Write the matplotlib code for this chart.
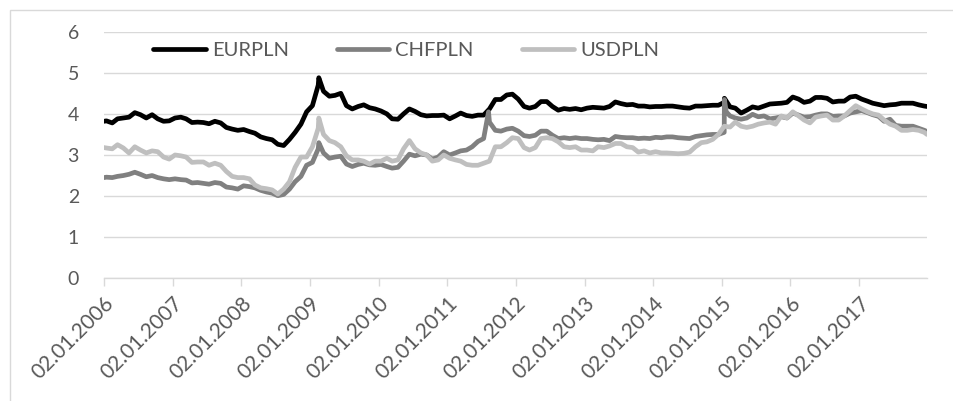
import matplotlib
matplotlib.use("Agg")
import matplotlib.pyplot as plt
from matplotlib.patches import Rectangle
import pandas as pd

plt.rcParams['font.family'] = ['Lato', 'DejaVu Sans']

# Monthly (mid-month) values, Jan 2006 .. Dec 2017
eurpln = [
    3.83, 3.78, 3.88, 3.90, 3.92, 4.03, 3.98, 3.90, 3.98, 3.88, 3.82, 3.83,
    3.90, 3.92, 3.88, 3.79, 3.80, 3.79, 3.76, 3.82, 3.78, 3.67, 3.63, 3.60,
    3.62, 3.57, 3.53, 3.44, 3.40, 3.37, 3.26, 3.23, 3.38, 3.55, 3.75, 4.05,
    4.20, 4.70, 4.55, 4.43, 4.45, 4.50, 4.20, 4.12, 4.18, 4.22, 4.15, 4.12,
    4.07, 4.00, 3.88, 3.87, 4.00, 4.12, 4.06, 3.98, 3.95, 3.96, 3.96, 3.97,
    3.88, 3.95, 4.02, 3.96, 3.94, 3.97, 3.97, 4.12, 4.35, 4.35, 4.46, 4.48,
    4.36, 4.18, 4.14, 4.18, 4.30, 4.30, 4.18, 4.09, 4.13, 4.11, 4.13, 4.10,
    4.14, 4.16, 4.15, 4.14, 4.18, 4.29, 4.25, 4.22, 4.23, 4.19, 4.19, 4.17,
    4.18, 4.18, 4.19, 4.19, 4.17, 4.15, 4.14, 4.19, 4.19, 4.20, 4.21, 4.21,
    4.28, 4.17, 4.14, 4.02, 4.09, 4.17, 4.14, 4.19, 4.24, 4.25, 4.26, 4.28,
    4.41, 4.36, 4.28, 4.31, 4.40, 4.40, 4.38, 4.29, 4.31, 4.31, 4.41, 4.43,
    4.36, 4.31, 4.26, 4.23, 4.20, 4.22, 4.23, 4.26, 4.26, 4.26, 4.22, 4.19,
]
chfpln = [
    2.46, 2.45, 2.48, 2.50, 2.53, 2.58, 2.53, 2.47, 2.50, 2.45, 2.42, 2.40,
    2.42, 2.40, 2.39, 2.32, 2.33, 2.31, 2.29, 2.33, 2.31, 2.22, 2.20, 2.17,
    2.25, 2.23, 2.20, 2.14, 2.10, 2.07, 2.01, 2.04, 2.17, 2.35, 2.48, 2.75,
    2.82, 3.15, 3.05, 2.92, 2.95, 2.97, 2.78, 2.72, 2.77, 2.80, 2.76, 2.75,
    2.77, 2.72, 2.68, 2.70, 2.85, 3.02, 2.98, 3.02, 3.00, 2.90, 2.95, 3.08,
    3.00, 3.05, 3.10, 3.12, 3.20, 3.33, 3.40, 3.80, 3.60, 3.58, 3.63, 3.65,
    3.58, 3.47, 3.45, 3.48, 3.58, 3.58, 3.48, 3.40, 3.42, 3.40, 3.42, 3.40,
    3.40, 3.38, 3.37, 3.38, 3.35, 3.45, 3.43, 3.42, 3.42, 3.40, 3.41, 3.40,
    3.43, 3.42, 3.44, 3.44, 3.42, 3.41, 3.40, 3.45, 3.47, 3.49, 3.50, 3.50,
    3.55, 3.95, 3.90, 3.87, 3.90, 3.99, 3.93, 3.95, 3.88, 3.90, 3.93, 3.90,
    4.02, 3.97, 3.92, 3.93, 3.97, 4.00, 4.00, 3.94, 3.95, 3.95, 4.02, 4.05,
    4.08, 4.03, 3.98, 3.94, 3.82, 3.87, 3.72, 3.70, 3.70, 3.70, 3.65, 3.60,
]
usdpln = [
    3.17, 3.15, 3.25, 3.17, 3.05, 3.20, 3.12, 3.05, 3.10, 3.08, 2.95, 2.90,
    3.00, 2.98, 2.95, 2.82, 2.83, 2.83, 2.75, 2.80, 2.75, 2.60, 2.48, 2.45,
    2.45, 2.42, 2.27, 2.20, 2.18, 2.15, 2.05, 2.17, 2.35, 2.70, 2.95, 2.95,
    3.20, 3.65, 3.50, 3.35, 3.30, 3.20, 2.98, 2.88, 2.88, 2.85, 2.78, 2.85,
    2.85, 2.92, 2.85, 2.88, 3.15, 3.35, 3.15, 3.05, 3.00, 2.85, 2.88, 3.00,
    2.92, 2.88, 2.85, 2.77, 2.75, 2.75, 2.80, 2.85, 3.20, 3.20, 3.30, 3.42,
    3.40, 3.18, 3.12, 3.18, 3.40, 3.42, 3.40, 3.32, 3.20, 3.18, 3.20, 3.12,
    3.12, 3.10, 3.20, 3.18, 3.22, 3.28, 3.28, 3.20, 3.18, 3.07, 3.10, 3.05,
    3.08, 3.05, 3.05, 3.04, 3.03, 3.04, 3.07, 3.20, 3.30, 3.32, 3.38, 3.50,
    3.70, 3.68, 3.80, 3.70, 3.67, 3.70, 3.75, 3.78, 3.80, 3.75, 3.95, 3.90,
    4.05, 3.95, 3.85, 3.78, 3.92, 3.95, 3.97, 3.85, 3.85, 3.95, 4.08, 4.20,
    4.12, 4.05, 4.00, 3.97, 3.85, 3.75, 3.70, 3.60, 3.60, 3.62, 3.60, 3.55,
]

# Additional daily observations (series start/end and visible spikes)
eur_extra = {"2006-01-02": 3.82, "2009-02-18": 4.88, "2015-01-16": 4.38,
             "2017-12-29": 4.18}
chf_extra = {"2006-01-02": 2.45, "2009-02-18": 3.30, "2011-08-10": 4.05,
             "2015-01-16": 4.35, "2015-01-26": 4.05, "2017-12-29": 3.57}
usd_extra = {"2006-01-02": 3.18, "2009-02-18": 3.90, "2017-12-29": 3.50}

series_names = ["EURPLN", "CHFPLN", "USDPLN"]
tick_labels = [f"02.01.{y}" for y in range(2006, 2018)]

months = pd.date_range("2006-01-01", periods=144, freq="MS") + pd.Timedelta(days=14)


def build(values, extra):
    s = pd.Series(values, index=months)
    e = pd.Series(extra)
    e.index = pd.to_datetime(e.index)
    return pd.concat([s, e]).sort_index()


data = [build(eurpln, eur_extra), build(chfpln, chf_extra), build(usdpln, usd_extra)]
colors = ["#000000", "#808080", "#bfbfbf"]

fig = plt.figure(figsize=(9.54, 4.01), dpi=100)
ax = fig.add_axes([0.109, 0.306, 0.8627, 0.615])

for s, name, c in zip(data, series_names, colors):
    ax.plot(s.index, s.values, color=c, lw=3.4, label=name,
            solid_joinstyle="round", solid_capstyle="round")

ax.set_ylim(0, 6)
ax.set_xlim(pd.Timestamp("2006-01-02"), pd.Timestamp("2017-12-29"))
ax.set_yticks(range(0, 7))
ax.yaxis.grid(True, color="#d9d9d9", lw=1.0)
ax.set_axisbelow(True)
for sp in ["top", "right", "left"]:
    ax.spines[sp].set_visible(False)
ax.spines["bottom"].set_color("#d9d9d9")
ax.spines["bottom"].set_linewidth(1.0)

ticks = [pd.Timestamp(f"{y}-01-02") for y in range(2006, 2018)]
ax.set_xticks(ticks)
ax.set_xticklabels(tick_labels, rotation=45, ha="right", va="top",
                   rotation_mode="anchor")
ax.tick_params(axis="x", colors="#d9d9d9", length=6, width=1.0,
               labelcolor="#595959", labelsize=15, pad=5)
ax.tick_params(axis="y", length=0, labelcolor="#595959", labelsize=14, pad=18)

leg = fig.legend(loc="center", bbox_to_anchor=(0.426, 0.873), ncol=3,
                 frameon=False, fontsize=14.5, handlelength=2.6,
                 columnspacing=2.4, handletextpad=0.3)
for t in leg.get_texts():
    t.set_color("#595959")

fig.patches.append(Rectangle((10 / 954, -0.05), 1.2, 1 - 10 / 401 + 0.05,
                             transform=fig.transFigure, fill=False,
                             edgecolor="#d9d9d9", lw=1.0))

fig.savefig("out.png", dpi=100)
